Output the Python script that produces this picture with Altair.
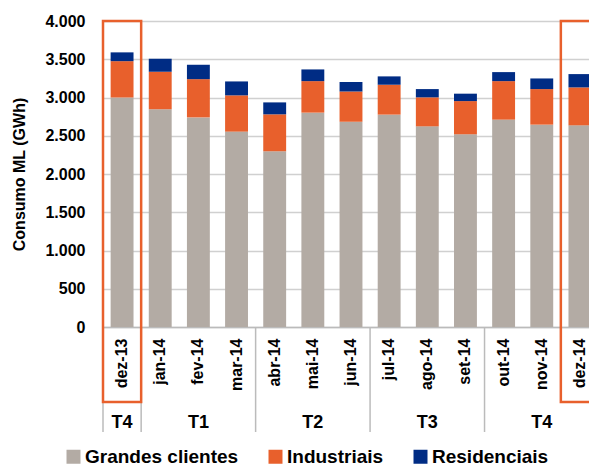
import altair as alt
import pandas as pd

months = ["dez-13", "jan-14", "fev-14", "mar-14", "abr-14", "mai-14", "jun-14",
          "jul-14", "ago-14", "set-14", "out-14", "nov-14", "dez-14"]
grandes = [3000, 2845, 2740, 2554, 2297, 2802, 2684, 2776, 2623, 2519, 2711, 2645, 2636]
industriais = [475, 492, 500, 474, 483, 412, 396, 391, 379, 434, 503, 465, 496]
residenciais = [115, 170, 188, 182, 156, 153, 121, 109, 108, 97, 118, 139, 174]

series = ["Grandes clientes", "Industriais", "Residenciais"]
colors = ["#B3ABA4", "#E8602C", "#002C84"]

quarters = ["T4", "T1", "T2", "T3", "T4"]
quarter_center = ["dez-13", "fev-14", "mai-14", "ago-14", "nov-14"]
quarter_start = ["dez-13", "jan-14", "abr-14", "jul-14", "out-14"]
highlighted = ["dez-13", "dez-14"]
y_ticks = [0, 500, 1000, 1500, 2000, 2500, 3000, 3500, 4000]

FONT = "Liberation Sans, Arial, sans-serif"

rows = []
for i, m in enumerate(months):
    for k, (s, vals) in enumerate(zip(series, [grandes, industriais, residenciais])):
        rows.append({"month": m, "serie": s, "valor": vals[i], "ordem": k})
df = pd.DataFrame(rows)

W, H = 486, 306
STEP_RANGE = 496
xscale = alt.Scale(domain=months, paddingInner=0, paddingOuter=0, range=[0, STEP_RANGE])
yscale = alt.Scale(domain=[0, 4000])

y_axis = alt.Axis(title="Consumo ML (GWh)", values=y_ticks,
                  labelExpr="replace(format(datum.value, ',.0f'), ',', '.')",
                  labelFontSize=16, labelFontWeight="bold", labelFont=FONT,
                  labelColor="#000", labelPadding=18, ticks=False,
                  domain=False, gridColor="#D0D0D0", gridWidth=1.5,
                  labelOverlap=False,
                  titleFontSize=16, titleFontWeight="bold", titleFont=FONT,
                  titleColor="#000", titlePadding=17)

x_axis = alt.Axis(title=None, labelAngle=270, labelFontSize=16,
                  labelFontWeight="bold", labelFont=FONT, labelColor="#000",
                  labelPadding=11, ticks=False, domainColor="#BBBBBB",
                  domainWidth=1.5, grid=False, labelOverlap=False)

bars = alt.Chart(df).mark_bar(width={"band": 0.6}).encode(
    x=alt.X("month:N", scale=xscale, sort=months, axis=x_axis),
    y=alt.Y("sum(valor):Q", stack="zero", scale=yscale, axis=y_axis),
    color=alt.Color("serie:N", scale=alt.Scale(domain=series, range=colors),
                    legend=alt.Legend(title=None, orient="none", legendX=-39, legendY=426,
                                      direction="horizontal", symbolType="square",
                                      symbolSize=196, symbolStrokeWidth=0,
                                      labelFontSize=19, labelFontWeight="bold",
                                      labelFont=FONT, labelColor="#000",
                                      labelLimit=400, columnPadding=27, labelOffset=2)),
    order=alt.Order("ordem:Q", sort="ascending"),
)

hl = alt.Chart(pd.DataFrame({"month": highlighted, "top": [4000, 4000]})).mark_rect(
    fill=None, stroke="#E8602C", strokeWidth=2.5
).encode(
    x=alt.X("month:N", scale=xscale, sort=months, axis=x_axis),
    y=alt.Y("top:Q", scale=yscale, axis=y_axis),
    y2=alt.value(H + 75),
)

seps = alt.Chart(pd.DataFrame({"month": quarter_start})).mark_rule(
    color="#BBBBBB", strokeWidth=1.5
).encode(
    x=alt.X("month:N", scale=xscale, sort=months, bandPosition=0, axis=x_axis),
    y=alt.value(H),
    y2=alt.value(H + 105),
)

qtext = alt.Chart(pd.DataFrame({"month": quarter_center, "q": quarters})).mark_text(
    fontSize=18, fontWeight="bold", font=FONT, color="#000", baseline="middle"
).encode(
    x=alt.X("month:N", scale=xscale, sort=months, axis=x_axis),
    y=alt.value(H + 96),
    text="q:N",
)

chart = alt.layer(bars, seps, hl, qtext).properties(
    width=W, height=H,
    autosize=alt.AutoSizeParams(type="none"),
    padding={"left": 95, "top": 13, "right": 0, "bottom": 143},
).configure_view(stroke=None)

chart.save("out.html", embed_options={"renderer": "svg", "actions": False})
